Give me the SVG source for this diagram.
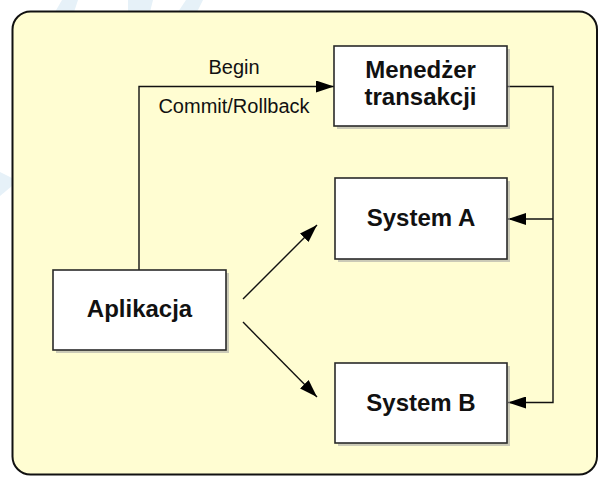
<svg xmlns="http://www.w3.org/2000/svg" width="599" height="477" viewBox="0 0 599 477">
  <style>
    .node rect.box { fill: #ffffff; stroke: #2a2a2a; stroke-width: 1.6; }
    .node rect.shadow { fill: #a0a0a0; opacity: 0.55; }
    .node text { font-family: "Liberation Sans", Arial, sans-serif; font-weight: bold; font-size: 24px; fill: #111111; text-anchor: middle; }
    .label { font-family: "Liberation Sans", Arial, sans-serif; font-size: 20px; fill: #111111; text-anchor: middle; }
    .edge { fill: none; stroke: #111111; stroke-width: 1.4; }
    .mark { fill: #e6f1f8; }
  </style>
  <defs>
    <marker id="arrow" viewBox="0 0 18 12" refX="18" refY="6" markerWidth="18" markerHeight="12" markerUnits="userSpaceOnUse" orient="auto">
      <path d="M0,0 L18,6 L0,12 Z" fill="#000000"/>
    </marker>
  </defs>

  <!-- page background with faint backdrop shapes -->
  <rect x="0" y="0" width="599" height="477" fill="#ffffff"/>
  <polygon class="mark" points="55,12 62,0 78,0 74,12"/>
  <polygon class="mark" points="128,12 128,0 153,0 150,12"/>
  <polygon class="mark" points="178,12 186,0 203,0 197,12"/>
  <polygon class="mark" points="0,172 12,178 12,186 0,196"/>

  <!-- frame -->
  <rect x="12.5" y="11.5" width="584.5" height="463" rx="18" ry="18" fill="#fffdd2" stroke="#111111" stroke-width="2"/>

  <!-- connectors -->
  <g id="connectors">
    <polyline class="edge" points="139,270 139,86.5 334,86.5" marker-end="url(#arrow)"/>
    <polyline class="edge" points="507,86.5 553,86.5 553,402.5 508,402.5" marker-end="url(#arrow)"/>
    <line class="edge" x1="553" y1="219" x2="508" y2="219" marker-end="url(#arrow)"/>
    <line class="edge" x1="243" y1="299" x2="317" y2="225" marker-end="url(#arrow)"/>
    <line class="edge" x1="243" y1="322" x2="317" y2="397" marker-end="url(#arrow)"/>
    <text class="label" x="234" y="74">Begin</text>
    <text class="label" x="234" y="113">Commit/Rollback</text>
  </g>

  <!-- nodes -->
  <g id="menedzer" class="node">
    <rect class="shadow" x="337" y="49" width="173" height="80"/>
    <rect class="box" x="334" y="46" width="173" height="80"/>
    <text x="420.5" y="78">Menedżer</text>
    <text x="420.5" y="105">transakcji</text>
  </g>
  <g id="system-a" class="node">
    <rect class="shadow" x="338" y="181" width="172" height="81"/>
    <rect class="box" x="335" y="178" width="172" height="81"/>
    <text x="421" y="226">System A</text>
  </g>
  <g id="system-b" class="node">
    <rect class="shadow" x="338" y="366" width="172" height="80"/>
    <rect class="box" x="335" y="363" width="172" height="80"/>
    <text x="421" y="411">System B</text>
  </g>
  <g id="aplikacja" class="node">
    <rect class="shadow" x="56" y="273" width="173" height="80"/>
    <rect class="box" x="53" y="270" width="173" height="80"/>
    <text x="139.5" y="317">Aplikacja</text>
  </g>
</svg>
